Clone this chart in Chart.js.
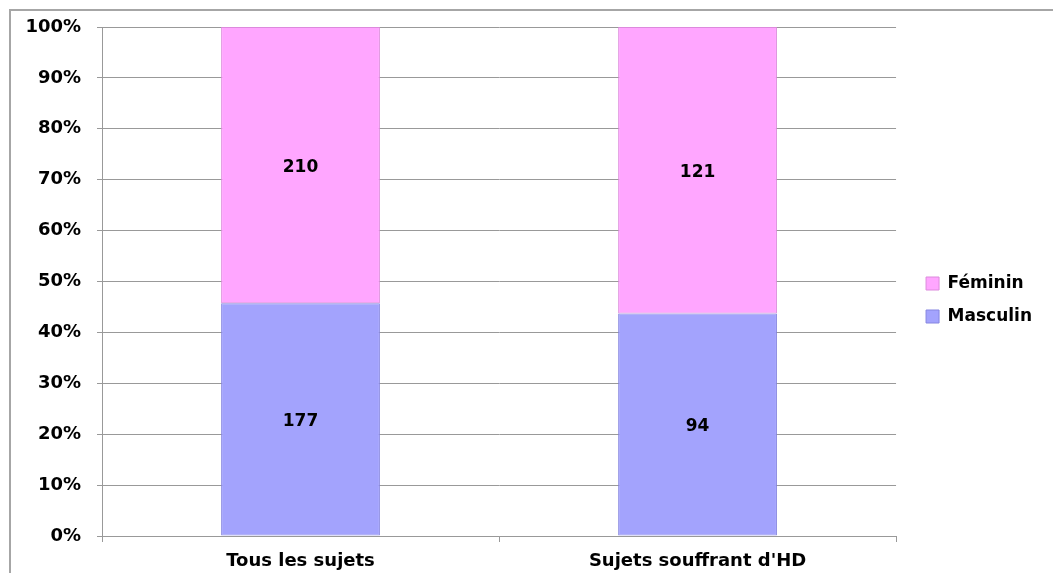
<!DOCTYPE html>
<html>
<head>
<meta charset="utf-8">
<script src="https://cdn.jsdelivr.net/npm/chart.js@4"></script>
<style>
	html, body { margin: 0; padding: 0; background: #fff; }
	.frame {
		position: absolute;
		left: 9px;
		top: 9px;
		width: 1044px;
		height: 564px;
		border-top: 2px solid #a6a6a6;
		border-left: 2px solid #a6a6a6;
		box-sizing: border-box;
	}
	.wrap { position: absolute; left: 0; top: 0; width: 1053px; height: 573px; }
</style>
</head>
<body>
<div class="frame"></div>
<div class="wrap"><canvas id="genderChart"></canvas></div>
<script>
const categories = ["Tous les sujets", "Sujets souffrant d'HD"];
const masculinCounts = [177, 94];
const femininCounts = [210, 121];
const yTicks = [0, 10, 20, 30, 40, 50, 60, 70, 80, 90, 100];

const totals = categories.map((_, i) => masculinCounts[i] + femininCounts[i]);
const toPercent = (counts) => counts.map((v, i) => v / totals[i] * 100);

const fontFamily = "'Arial Black', 'DejaVu Sans', sans-serif";

/* etiquettes des valeurs au centre des segments */
const countLabels = {
	id: "countLabels",
	afterDatasetsDraw(chart) {
		const ctx = chart.ctx;
		ctx.save();
		ctx.font = "bold 17px " + fontFamily;
		ctx.fillStyle = "#000";
		ctx.textAlign = "center";
		ctx.textBaseline = "middle";
		chart.data.datasets.forEach((ds, di) => {
			const meta = chart.getDatasetMeta(di);
			meta.data.forEach((bar, i) => {
				const mid = (bar.y + bar.base) / 2;
				ctx.fillText(String(ds.counts[i]), bar.x, mid + 2);
			});
		});
		ctx.restore();
	}
};

new Chart(document.getElementById("genderChart"), {
	type: "bar",
	data: {
		labels: categories,
		datasets: [
			{
				label: "Masculin",
				data: toPercent(masculinCounts),
				counts: masculinCounts,
				backgroundColor: "#a3a3fd",
				borderColor: "#8585e0",
				borderWidth: 1,
				borderSkipped: false
			},
			{
				label: "Féminin",
				data: toPercent(femininCounts),
				counts: femininCounts,
				backgroundColor: "#ffa6ff",
				borderColor: "#dc8adc",
				borderWidth: 1,
				borderSkipped: false
			}
		]
	},
	options: {
		responsive: true,
		maintainAspectRatio: false,
		animation: false,
		layout: {
			padding: { top: 27, right: 11, bottom: 0, left: 0 }
		},
		datasets: {
			bar: {
				barPercentage: 0.4,
				categoryPercentage: 1
			}
		},
		plugins: {
			legend: {
				position: "right",
				reverse: true,
				labels: {
					boxWidth: 13,
					boxHeight: 13,
					padding: 16,
					color: "#000",
					font: { family: fontFamily, size: 17, weight: "bold" }
				}
			},
			tooltip: { enabled: false }
		},
		scales: {
			x: {
				stacked: true,
				afterFit(scale) {
					scale.height = 37;
				},
				grid: {
					drawOnChartArea: false,
					drawTicks: true,
					tickLength: 6,
					color: "#999"
				},
				border: { color: "#999", width: 1 },
				ticks: {
					padding: 9,
					color: "#000",
					font: { family: fontFamily, size: 18, weight: "bold" }
				}
			},
			y: {
				stacked: true,
				min: 0,
				max: 100,
				afterBuildTicks(scale) {
					scale.ticks = yTicks.map((v) => ({ value: v }));
				},
				afterFit(scale) {
					scale.width = 102;
				},
				grid: {
					color: "#999",
					tickLength: 5
				},
				border: { color: "#999", width: 1 },
				ticks: {
					padding: 16,
					color: "#000",
					font: { family: fontFamily, size: 18, weight: "bold" },
					callback: (v) => v + "%"
				}
			},
			/* axe vide pour laisser un espace avant la légende */
			gap: {
				position: "right",
				display: true,
				afterFit(scale) {
					scale.width = 14;
				},
				grid: { display: false },
				border: { display: false },
				ticks: { display: false }
			}
		}
	},
	plugins: [countLabels]
});
</script>
</body>
</html>
